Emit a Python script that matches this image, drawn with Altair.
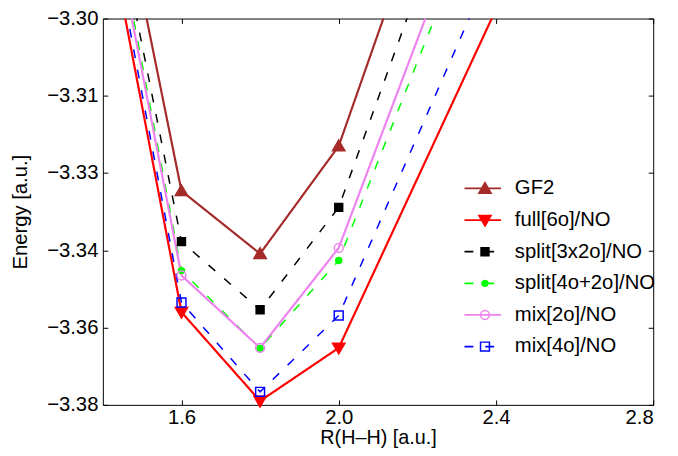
import altair as alt
import pandas as pd

# ---- data (x = 1.4 and 2.4 lie outside the visible window) ----
R = [1.4, 1.6, 1.8, 2.0, 2.4]
SERIES = ["GF2", "full[6o]/NO", "split[3x2o]/NO", "split[4o+2o]/NO", "mix[2o]/NO", "mix[4o]/NO"]
E_GF2 = [-3.2552, -3.3357, -3.3487, -3.3264, -3.2334]
E_FULL = [-3.2757, -3.3608, -3.3792, -3.3682, -3.2981]
E_SPLIT3 = [-3.2650, -3.3462, -3.3603, -3.3391, -3.2490]
E_SPLIT4 = [-3.2667, -3.3522, -3.3683, -3.3501, -3.2679]
E_MIX2 = [-3.2690, -3.3532, -3.3682, -3.3475, -3.2613]
E_MIX4 = [-3.2726, -3.3588, -3.3773, -3.3615, -3.2873]

X_TICKS = [1.6, 2.0, 2.4, 2.8]
Y_TICKS = [-3.300, -3.316, -3.332, -3.348, -3.364, -3.380]
Y_TICK_LABELS = ["\u22123.30", "\u22123.31", "\u22123.33", "\u22123.34", "\u22123.36", "\u22123.38"]

# ---- styles ----
COLORS = ["#A52A2A", "#FF0000", "#000000", "#00FF00", "#EE82EE", "#0000FF"]
DASHES = [[1, 0], [1, 0], [9, 12], [9, 12], [1, 0], [9, 12]]
DASHED = ["split[3x2o]/NO", "split[4o+2o]/NO", "mix[4o]/NO"]
FILLED = SERIES[:4]


def circle(r):
    return f"M{-r},0A{r},{r} 0 1,0 {r},0A{r},{r} 0 1,0 {-r},0Z"


SHAPES = [
    "M0,-1.2L1.25,0.95L-1.25,0.95Z",   # triangle up
    "M0,1.2L1.25,-0.95L-1.25,-0.95Z",  # triangle down
    "M-0.8,-0.8H0.8V0.8H-0.8Z",        # square
    circle(0.6),                       # small dot
    circle(0.9),                       # open circle
    "M-0.9,-0.9H0.9V0.9H-0.9Z",        # open square
]

rows = []
for name, vals in zip(SERIES, [E_GF2, E_FULL, E_SPLIT3, E_SPLIT4, E_MIX2, E_MIX4]):
    for r, e in zip(R, vals):
        rows.append({"series": name, "R": r, "E": e})
df = pd.DataFrame(rows)

FONT = "Liberation Sans"
FS = 20.5
label_expr = ""
for v, l in zip(Y_TICKS, Y_TICK_LABELS):
    label_expr += f"abs(datum.value - ({v})) < 1e-6 ? '{l}' : "
label_expr += "''"

xscale = alt.Scale(domain=[1.4, 2.8], nice=False, zero=False)
yscale = alt.Scale(domain=[-3.38, -3.30], nice=False, zero=False)

common_axis = dict(domain=False, grid=False, tickSize=5, tickColor="black", tickWidth=1,
                   offset=-5, labelFont=FONT, labelFontSize=FS, labelColor="black",
                   titleFont=FONT, titleFontSize=FS, titleColor="black", titleFontWeight="normal")

x_bottom = alt.Axis(orient="bottom", values=X_TICKS, format=".1f", labelPadding=3,
                    title="R(H\u2013H) [a.u.]", titleBaseline="alphabetic", titleY=44,
                    **{**common_axis, "titleFontSize": 20})
y_left = alt.Axis(orient="left", values=Y_TICKS, labelExpr=label_expr, labelPadding=5,
                  title="Energy [a.u.]", titlePadding=16, **common_axis)
x_top = alt.Axis(orient="top", values=X_TICKS, labels=False, title=None, **common_axis)
y_right = alt.Axis(orient="right", values=Y_TICKS, labels=False, title=None, **common_axis)

LY = 160
leg_common = dict(title=None, orient="none", legendY=LY, labelFont=FONT, labelFontSize=FS,
                  labelColor="black", clipHeight=24, rowPadding=8, padding=0)
legA = alt.Legend(legendX=365, symbolType="stroke", symbolSize=1369, symbolStrokeWidth=1.8,
                  labelOffset=13, **leg_common)
legP = alt.Legend(legendX=376.5, symbolSize=100, symbolStrokeWidth=1.5, labelExpr="''",
                  **leg_common)

base = alt.Chart(df)

lines = base.transform_calculate(
    w=f"indexof({DASHED}, datum.series) >= 0 ? 1.5 : 2.2"
).mark_line(clip=True).encode(
    x=alt.X("R:Q", scale=xscale, axis=x_bottom),
    y=alt.Y("E:Q", scale=yscale, axis=y_left),
    color=alt.Color("series:N", scale=alt.Scale(domain=SERIES, range=COLORS), legend=legA),
    strokeDash=alt.StrokeDash("series:N", scale=alt.Scale(domain=SERIES, range=DASHES), legend=legA),
    strokeWidth=alt.StrokeWidth("w:Q", scale=None),
)

visible = "datum.E >= -3.38 && datum.E <= -3.30"

fills = base.transform_filter(visible).transform_filter(
    alt.FieldOneOfPredicate(field="series", oneOf=FILLED)
).mark_point(filled=True, size=100, opacity=1).encode(
    x=alt.X("R:Q", scale=xscale, axis=None),
    y=alt.Y("E:Q", scale=yscale, axis=None),
    color=alt.Color("series:N", scale=alt.Scale(domain=FILLED, range=COLORS[:4]), legend=legP),
    shape=alt.Shape("series:N", scale=alt.Scale(domain=FILLED, range=SHAPES[:4]), legend=legP),
)

outlines = base.transform_filter(visible).mark_point(
    filled=False, size=100, strokeWidth=1.5, opacity=1
).encode(
    x=alt.X("R:Q", scale=xscale, axis=x_top),
    y=alt.Y("E:Q", scale=yscale, axis=y_right),
    color=alt.Color("series:N", scale=alt.Scale(domain=SERIES, range=COLORS), legend=legP),
    shape=alt.Shape("series:N", scale=alt.Scale(domain=SERIES, range=SHAPES), legend=legP),
)

chart = alt.layer(lines, fills, outlines).resolve_scale(
    color="independent", shape="independent", strokeDash="independent"
).resolve_axis(
    x="independent", y="independent"
).properties(
    width=557, height=391,
    autosize=alt.AutoSizeParams(type="none"),
    padding={"left": 96, "top": 8, "right": 17, "bottom": 41},
    background="white",
).configure_view(stroke="black", strokeWidth=1)

chart.save("out.html", embed_options={"renderer": "svg", "actions": False})
